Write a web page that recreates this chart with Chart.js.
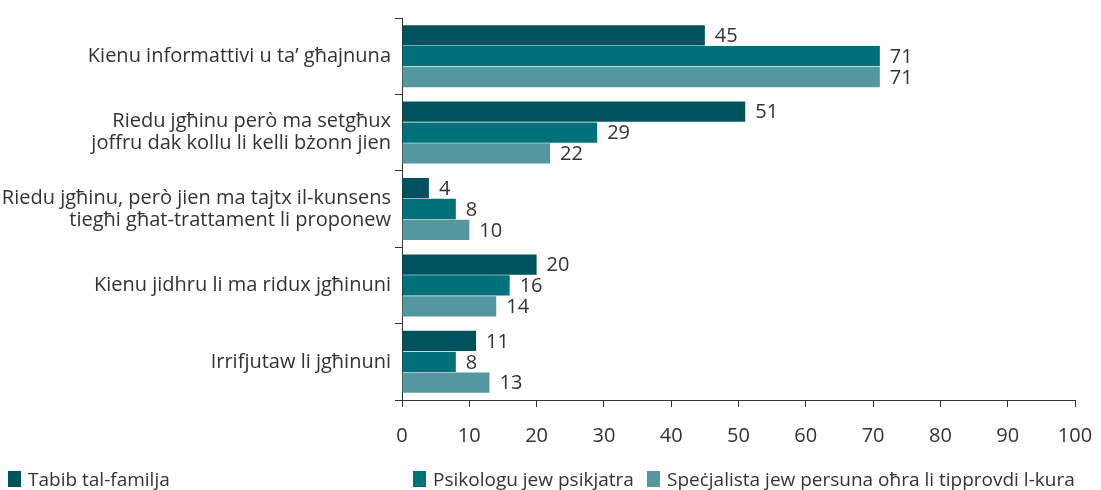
<!DOCTYPE html>
<html>
<head>
<meta charset="utf-8">
<script src="https://cdn.jsdelivr.net/npm/chart.js@4"></script>
<style>
  html, body { margin: 0; padding: 0; background: #fff; }
  #wrap { position: relative; width: 1101px; height: 490px; }
  #legend { position: absolute; top: 466px; left: 0; width: 1101px; height: 25px;
            font-family: "Open Sans", sans-serif; font-size: 19px; color: #333; }
  #legend .item { position: absolute; top: 0; display: flex; align-items: center; white-space: nowrap; }
  #legend .box { width: 13px; height: 16px; margin-right: 7px; }
</style>
</head>
<body>
<div id="wrap">
  <canvas id="chart" width="1101" height="490"></canvas>
  <div id="legend"></div>
</div>
<script>
// Data
const categories = [
    'Kienu informattivi u ta’ għajnuna',
    ['Riedu jgħinu però ma setgħux', 'joffru dak kollu li kelli bżonn jien'],
    ['Riedu jgħinu, però jien ma tajtx il-kunsens', 'tiegħi għat-trattament li proponew'],
    'Kienu jidhru li ma ridux jgħinuni',
    'Irrifjutaw li jgħinuni'
];
const seriesNames = ['Tabib tal-familja', 'Psikologu jew psikjatra', 'Speċjalista jew persuna oħra li tipprovdi l-kura'];
const familyDoctor = [45, 51, 4, 20, 11];
const psychologist = [71, 29, 8, 16, 8];
const specialist = [71, 22, 10, 14, 13];
const xTicks = [0, 10, 20, 30, 40, 50, 60, 70, 80, 90, 100];

const colors = ['#00535e', '#00707a', '#5497a1'];
const legendLeft = [8, 413, 647];
const textColor = '#333333';
const fontFamily = '"Open Sans", sans-serif';

// Value labels at the end of each bar
const valueLabels = {
    id: 'valueLabels',
    afterDatasetsDraw(chart) {
        const ctx = chart.ctx;
        ctx.save();
        ctx.font = '20px ' + fontFamily;
        ctx.fillStyle = textColor;
        ctx.textBaseline = 'middle';
        ctx.textAlign = 'left';
        chart.data.datasets.forEach((ds, i) => {
            chart.getDatasetMeta(i).data.forEach((bar, j) => {
                ctx.fillText(ds.data[j], bar.x + 10, bar.y + 1);
            });
        });
        ctx.restore();
    }
};

const ctx = document.getElementById('chart').getContext('2d');
const chart = new Chart(ctx, {
    type: 'bar',
    data: {
        labels: categories,
        datasets: [
            { label: seriesNames[0], data: familyDoctor, backgroundColor: colors[0] },
            { label: seriesNames[1], data: psychologist, backgroundColor: colors[1] },
            { label: seriesNames[2], data: specialist, backgroundColor: colors[2] }
        ]
    },
    options: {
        indexAxis: 'y',
        responsive: false,
        animation: false,
        layout: { padding: { top: 18, right: 0, bottom: 25, left: 0 } },
        datasets: {
            bar: { categoryPercentage: 0.82, barPercentage: 0.97 }
        },
        plugins: {
            legend: { display: false },
            tooltip: { enabled: false }
        },
        scales: {
            x: {
                min: 0,
                max: 100,
                afterBuildTicks: (scale) => { scale.ticks = xTicks.map(v => ({ value: v })); },
                afterFit: (scale) => { scale.paddingRight = 26; scale.paddingLeft = 0; },
                grid: { drawOnChartArea: false, drawTicks: true, tickLength: 7, color: '#333', tickColor: '#333' },
                border: { color: '#333', width: 1 },
                ticks: { color: textColor, font: { family: fontFamily, size: 20 }, padding: 17 }
            },
            y: {
                afterFit: (scale) => { scale.width = 402; },
                grid: { drawOnChartArea: false, drawTicks: true, tickLength: 7, color: '#333', tickColor: '#333', offset: true },
                border: { color: '#333', width: 1 },
                ticks: { color: textColor, font: { family: fontFamily, size: 20, lineHeight: 1.1 }, padding: 4 }
            }
        }
    },
    plugins: [valueLabels]
});

// HTML legend
const legend = document.getElementById('legend');
seriesNames.forEach((name, i) => {
    const item = document.createElement('div');
    item.className = 'item';
    item.style.left = legendLeft[i] + 'px';
    item.innerHTML = '<span class="box" style="background:' + colors[i] + '"></span><span>' + name + '</span>';
    legend.appendChild(item);
});
</script>
</body>
</html>
